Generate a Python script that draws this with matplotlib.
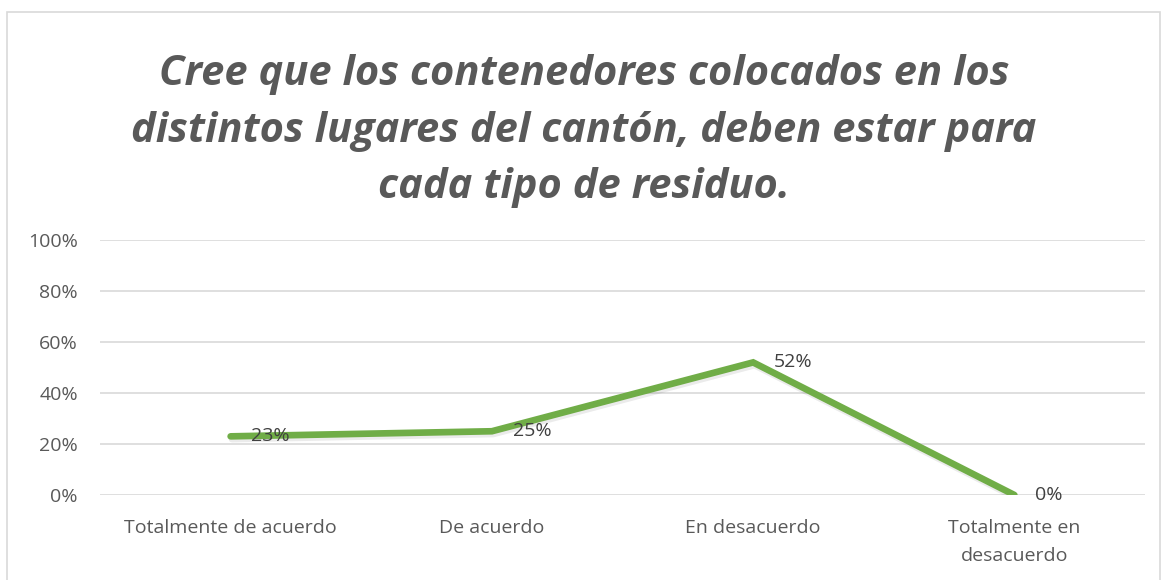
import matplotlib.pyplot as plt
import matplotlib.patheffects as pe
from matplotlib.patches import Rectangle

# Data
categories = ['Totalmente de acuerdo', 'De acuerdo', 'En desacuerdo',
              'Totalmente en\ndesacuerdo']
values = [0.23, 0.25, 0.52, 0.00]
labels = ['23%', '25%', '52%', '0%']
yticks = [0, 0.2, 0.4, 0.6, 0.8, 1.0]

title = ('Cree que los contenedores colocados en los\n'
         'distintos lugares del cantón, deben estar para\n'
         'cada tipo de residuo.')

plt.rcParams['font.family'] = ['Open Sans', 'DejaVu Sans']

fig = plt.figure(figsize=(11.68, 5.8), dpi=100)
fig.patches.append(Rectangle((7 / 1168, -0.1), 1153 / 1168, 1.08,
                             transform=fig.transFigure, fill=False,
                             edgecolor='#D9D9D9', linewidth=1.2))

ax = fig.add_axes([100 / 1168, 1 - 495 / 580, 1045 / 1168, 255 / 580])
x = range(len(categories))
ax.plot(x, values, color='#70AD47', linewidth=4.8, solid_capstyle='round',
        solid_joinstyle='miter',
        path_effects=[pe.SimpleLineShadow(offset=(1, -2), alpha=0.08),
                      pe.Normal()])
for xi, v, lab in zip(x, values, labels):
    ax.annotate(lab, (xi, v), xytext=(15, 0), textcoords='offset points',
                ha='left', va='center', fontsize=14, color='#404040')

ax.set_xlim(-0.5, len(categories) - 0.5)
ax.set_ylim(0, 1.0)
ax.set_yticks(yticks)
ax.set_yticklabels([f'{int(t * 100)}%' for t in yticks])
ax.set_xticks(list(x))
ax.set_xticklabels(categories, linespacing=1.75)
ax.tick_params(axis='both', length=0, labelsize=14, labelcolor='#595959')
ax.tick_params(axis='y', pad=16)
ax.tick_params(axis='x', pad=17)
ax.grid(axis='y', color='#D9D9D9', linewidth=1.2)
ax.set_axisbelow(True)
for s in ax.spines.values():
    s.set_visible(False)

fig.text(0.5, 1 - 131 / 580, title, ha='center', va='center',
         fontsize=30, fontweight='bold', fontstyle='italic',
         color='#595959', linespacing=1.5)

fig.savefig('out.png', dpi=100)
